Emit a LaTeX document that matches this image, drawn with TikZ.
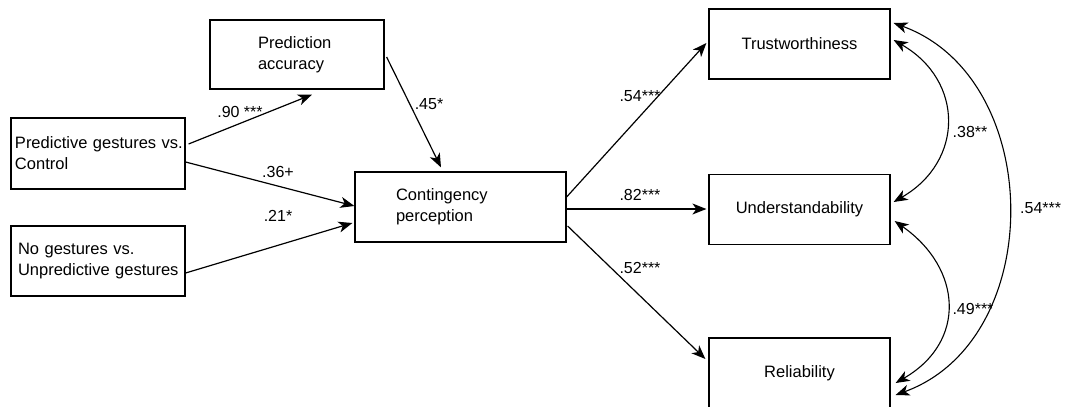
\documentclass[tikz,border=0pt]{standalone}
\usepackage{fontspec}
\setmainfont{Liberation Sans}
\usetikzlibrary{arrows.meta, positioning, calc}
\tikzset{
  box/.style={rectangle,draw=black,line width=1.2pt,align=left,
    font=\fontsize{16.5}{21}\selectfont,inner sep=0pt,minimum height=70pt},
  coef/.style={font=\fontsize{16}{19}\selectfont,inner sep=0pt},
  ar/.style={-{Stealth[length=14pt,width=11pt,inset=4pt]},line width=1.2pt},
  cov/.style={{Stealth[length=14pt,width=11pt,inset=4pt]}-{Stealth[length=14pt,width=11pt,inset=4pt]},line width=1.1pt}
}
\begin{document}
\begin{tikzpicture}[x=1pt,y=-1pt]
\useasboundingbox (0,0) rectangle (1080,407);
\node[box,minimum width=174pt,minimum height=69pt,text width=78pt] (acc) at (297,54.5) {Prediction\\accuracy};
\node[box,minimum width=174pt,minimum height=71pt,text width=166pt] (pgc) at (98,153.5) {\mbox{Predictive gestures vs.}\\Control};
\node[box,minimum width=174pt,text width=160pt] (ngu) at (98,261) {No gestures vs.\\\mbox{Unpredictive gestures}};
\node[box,minimum width=211pt,text width=129pt] (cont) at (460.5,207) {Contingency\\perception};
\node[box,minimum width=181pt,align=center] (trust) at (799.5,44) {Trustworthiness};
\node[box,minimum width=181pt,align=center] (under) at (799.5,209.5) {Understandability};
\node[box,minimum width=181pt,align=center] (rel) at (799.5,373) {Reliability};
\draw[ar] ($(pgc.east)+(3,-9.5)$) -- ($(acc.south)+(15,5)$);
\draw[ar] ($(pgc.east)+(0,8.5)$) -- ($(cont.west)+(0,-1)$);
\draw[ar] ($(ngu.east)+(0,12)$) -- ($(cont.west)+(-2,16)$);
\draw[ar] ($(acc.east)+(2,2.5)$) -- ($(cont.north)+(-19.5,-4)$);
\draw[ar] ($(cont.east)+(0,-10)$) -- ($(trust.west)+(-2,-1)$);
\draw[ar] ($(cont.east)+(0,2)$) -- ($(under.west)+(-2,-0.5)$);
\draw[ar] ($(cont.east)+(1,19)$) -- ($(rel.west)+(-3,-14)$);
\draw[cov] ($(trust.east)+(3,-4)$) to[out=-30,in=30,looseness=1.29] ($(under.east)+(3,-7.5)$);
\draw[cov] ($(under.east)+(4,11.5)$) to[out=-35,in=30,looseness=1.3] ($(rel.east)+(5,10)$);
\draw[cov] ($(trust.east)+(3,-21)$) to[out=-20,in=20,looseness=1.11] ($(rel.east)+(5,22)$);
\node[coef] (c90) at (240,112) {.90 ***};
\node[coef] (c45) at (429,104) {.45*};
\node[coef] (c36) at (278,172) {.36+};
\node[coef] (c21) at (278,216) {.21*};
\node[coef] (c54a) at (640,96) {.54***};
\node[coef] (c82) at (640,195) {.82***};
\node[coef] (c52) at (640,268) {.52***};
\node[coef] (c38) at (970,132) {.38**};
\node[coef] (c49) at (973,309) {.49***};
\node[coef,anchor=west] (c54b) at (1020,208) {.54***};
\end{tikzpicture}
\end{document}
